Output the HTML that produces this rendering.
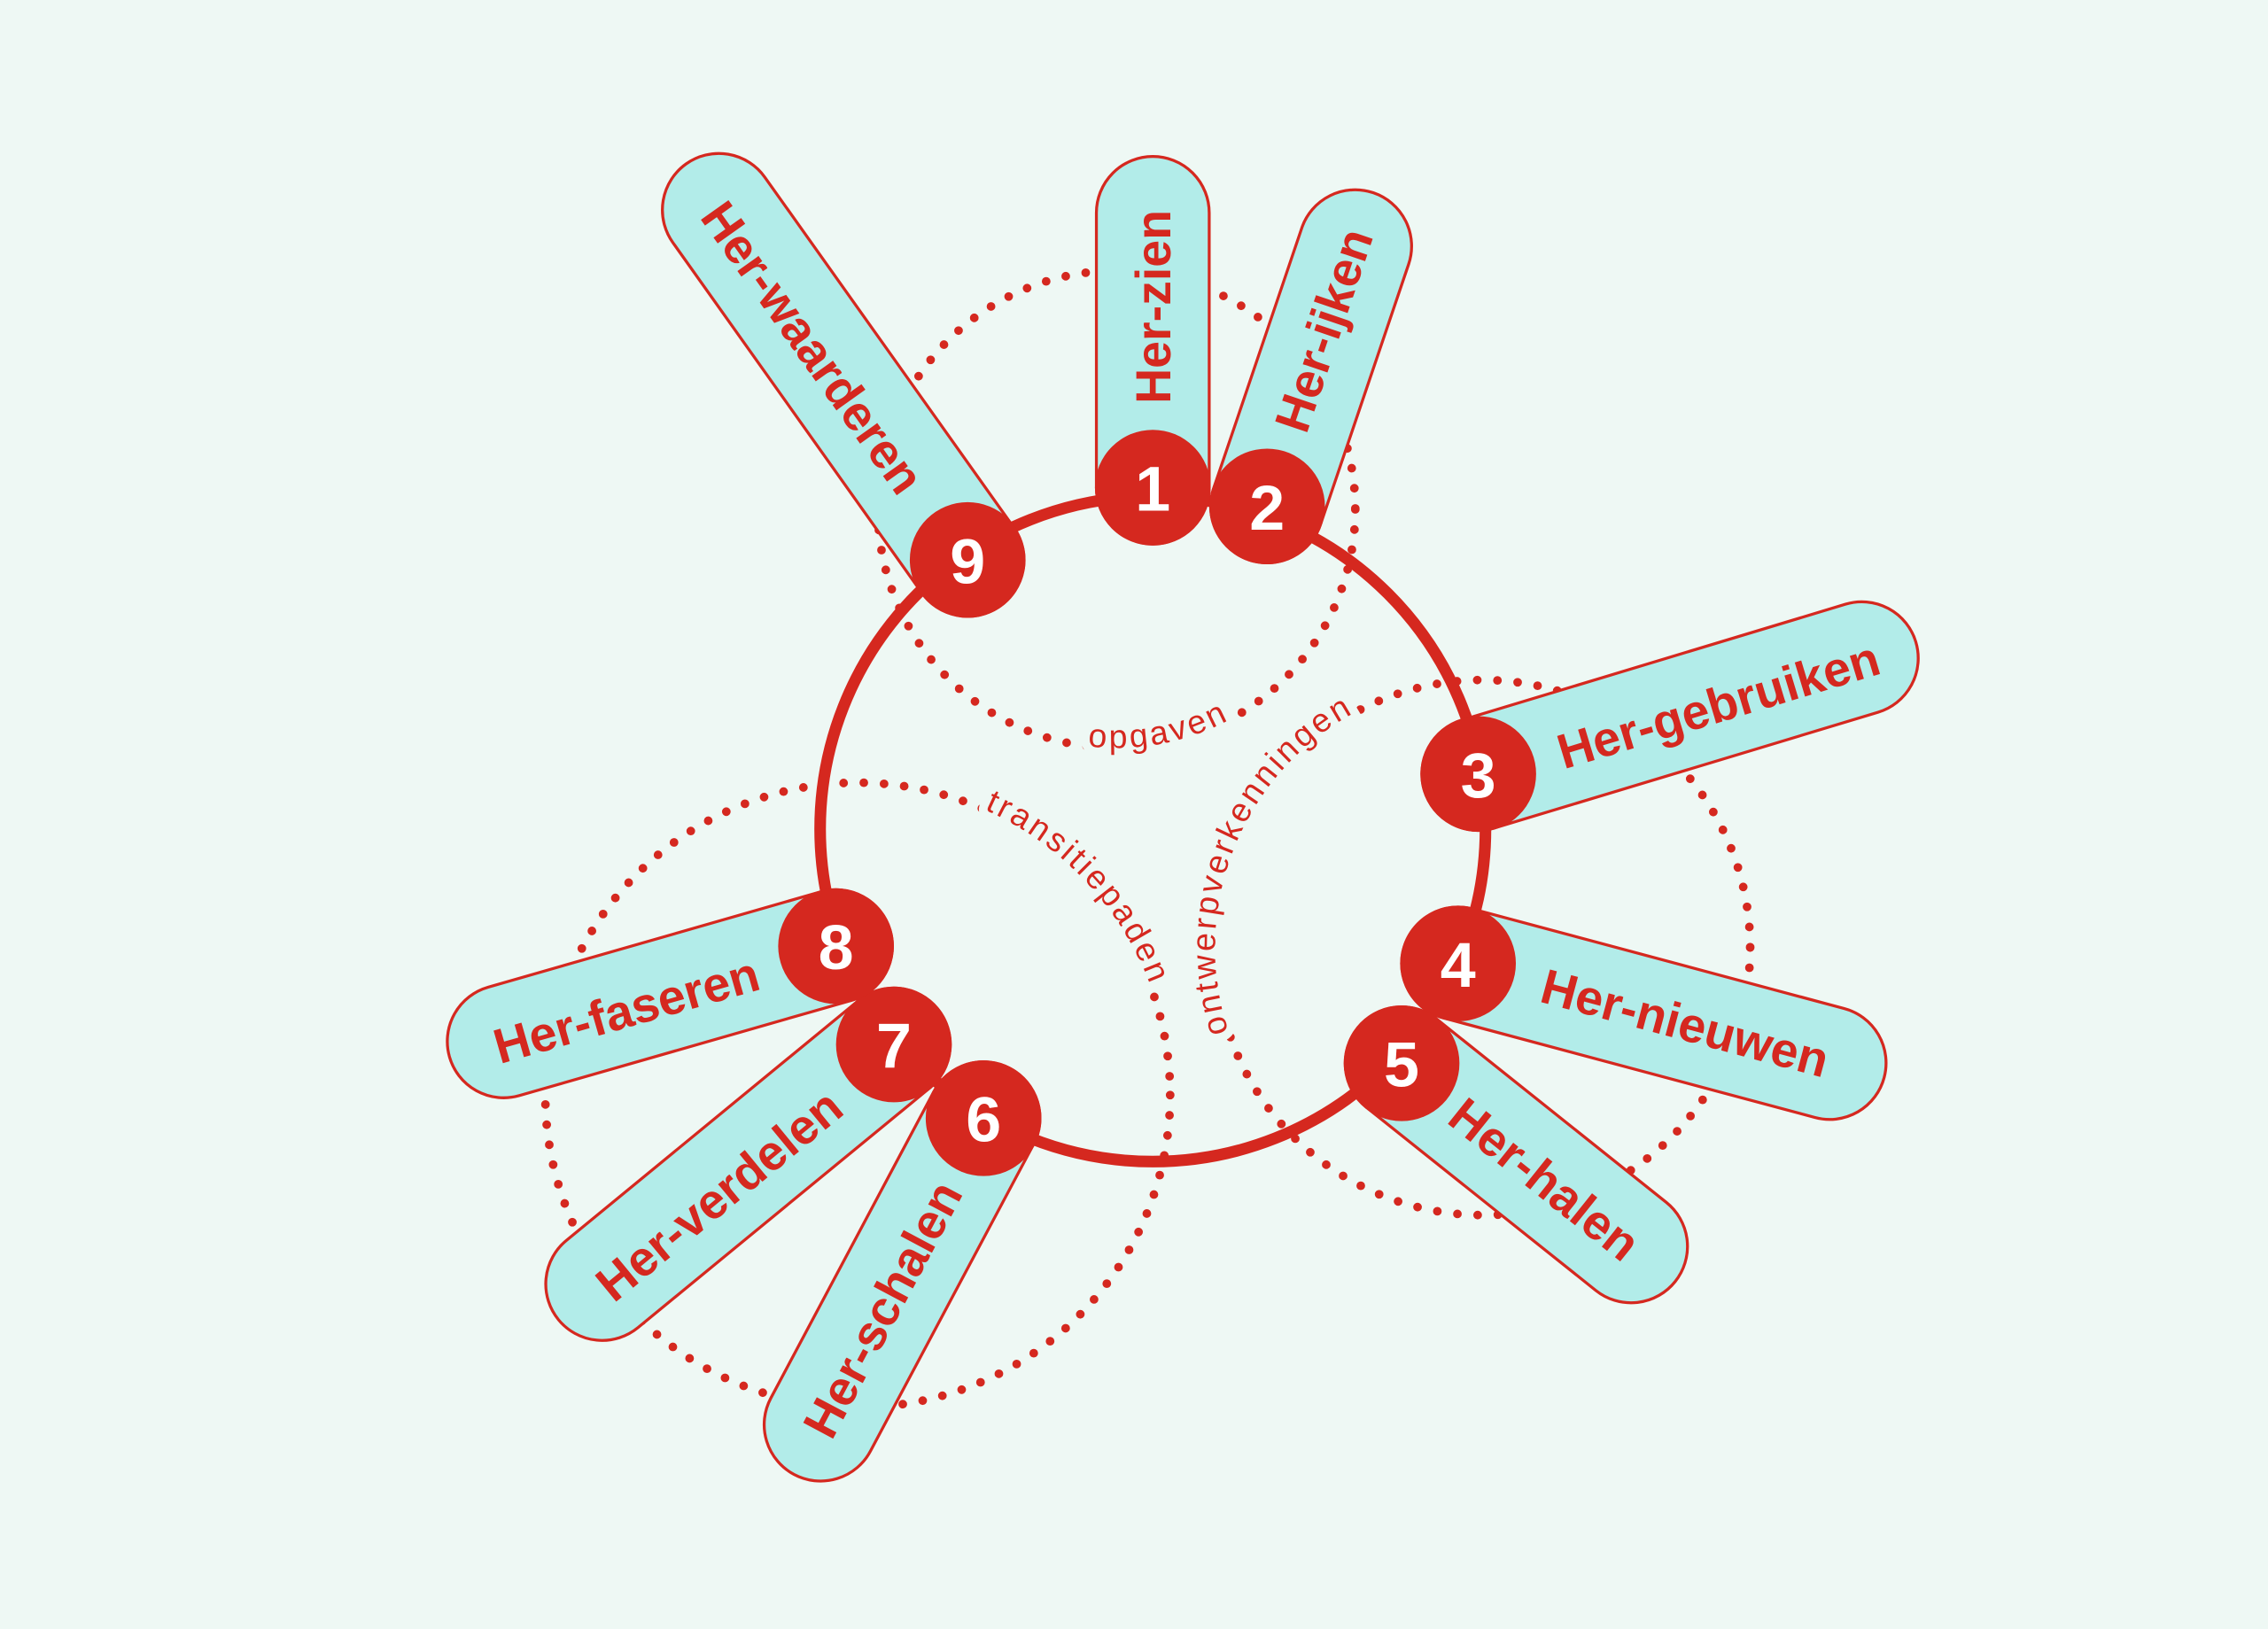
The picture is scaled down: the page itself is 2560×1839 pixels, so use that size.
<!DOCTYPE html>
<html><head><meta charset="utf-8"><style>
html,body{margin:0;padding:0;background:#eef8f4;}
svg{display:block;}
text{font-family:"Liberation Sans",sans-serif;fill:#d5281f;}
.pl{font-size:34px;font-weight:bold;}
.nm{font-size:44px;font-weight:bold;fill:#fff;}
.lb{font-size:23px;letter-spacing:2px;}
.halo{fill:#eef8f4;stroke:#eef8f4;stroke-width:12px;}
</style></head><body>
<svg width="2560" height="1839" viewBox="0 0 1568 1126" xmlns="http://www.w3.org/2000/svg">
<rect width="1568" height="1126" fill="#eef8f4"/>
<defs>
<path id="pO" d="M607,352 A165,165 0 0 0 937,352"/>
<path id="pT" d="M593,541 A216,216 0 0 1 593,973"/>
<path id="pW" d="M1025,840 A185,185 0 0 1 1025,470"/>
</defs>
<g fill="none" stroke="#d5281f" stroke-width="6" stroke-linecap="round" stroke-dasharray="0 14">
<circle cx="772" cy="352" r="165"/>
<circle cx="593" cy="757" r="216"/>
<circle cx="1025" cy="655" r="185"/>
</g>
<text class="lb halo"><textPath href="#pO" startOffset="56%" text-anchor="middle">&#160;opgaven&#160;</textPath></text>
<text class="lb halo"><textPath href="#pT" startOffset="26%" text-anchor="middle">&#160;transitiepaden&#160;</textPath></text>
<text class="lb halo"><textPath href="#pW" startOffset="62%" text-anchor="middle">&#160;ontwerpverkenningen&#160;</textPath></text>
<text class="lb"><textPath href="#pO" startOffset="56%" text-anchor="middle">&#160;opgaven&#160;</textPath></text>
<text class="lb"><textPath href="#pT" startOffset="26%" text-anchor="middle">&#160;transitiepaden&#160;</textPath></text>
<text class="lb"><textPath href="#pW" startOffset="62%" text-anchor="middle">&#160;ontwerpverkenningen&#160;</textPath></text>
<circle cx="797" cy="573" r="230" fill="none" stroke="#d5281f" stroke-width="8"/>
<g fill="#b2ece9" stroke="#d5281f" stroke-width="2">
<rect transform="translate(797,337) rotate(-90)" x="-39" y="-39" width="268" height="78" rx="39"/>
<rect transform="translate(876,350) rotate(-71.3)" x="-39" y="-39" width="268" height="78" rx="39"/>
<rect transform="translate(669,387) rotate(-125.4)" x="-39" y="-39" width="375" height="78" rx="39"/>
<rect transform="translate(1022,535) rotate(-16.8)" x="-39" y="-39" width="355" height="78" rx="39"/>
<rect transform="translate(1008,666) rotate(15)" x="-39" y="-39" width="344" height="78" rx="39"/>
<rect transform="translate(969,735) rotate(38.6)" x="-39" y="-39" width="281" height="78" rx="39"/>
<rect transform="translate(680,773) rotate(118)" x="-39" y="-39" width="318" height="78" rx="39"/>
<rect transform="translate(618,722) rotate(140.6)" x="-39" y="-39" width="339" height="78" rx="39"/>
<rect transform="translate(578,654) rotate(164)" x="-39" y="-39" width="317" height="78" rx="39"/>
</g>
<g text-anchor="middle">
<text class="pl" transform="translate(797,212) rotate(-90)" dy="12">Her-zien</text>
<text class="pl" transform="translate(915,228) rotate(-71.3)" dy="12">Her-ijken</text>
<text class="pl" transform="translate(562,240) rotate(54.6)" dy="12">Her-waarderen</text>
<text class="pl" transform="translate(1188,487) rotate(-16.8)" dy="12">Her-gebruiken</text>
<text class="pl" transform="translate(1165,707) rotate(15)" dy="12">Her-nieuwen</text>
<text class="pl" transform="translate(1068,815) rotate(38.6)" dy="12">Her-halen</text>
<text class="pl" transform="translate(610,905) rotate(-62)" dy="12">Her-schalen</text>
<text class="pl" transform="translate(497,826) rotate(-39.4)" dy="12">Her-verdelen</text>
<text class="pl" transform="translate(433,698) rotate(-16)" dy="12">Her-faseren</text>
</g>
<g fill="#d5281f">
<circle cx="797" cy="337" r="40"/><circle cx="876" cy="350" r="40"/><circle cx="669" cy="387" r="40"/>
<circle cx="1022" cy="535" r="40"/><circle cx="1008" cy="666" r="40"/><circle cx="969" cy="735" r="40"/>
<circle cx="680" cy="773" r="40"/><circle cx="618" cy="722" r="40"/><circle cx="578" cy="654" r="40"/>
</g>
<g text-anchor="middle">
<text class="nm" x="797" y="353">1</text><text class="nm" x="876" y="366">2</text><text class="nm" x="669" y="403">9</text>
<text class="nm" x="1022" y="551">3</text><text class="nm" x="1008" y="682">4</text><text class="nm" x="969" y="751">5</text>
<text class="nm" x="680" y="789">6</text><text class="nm" x="618" y="738">7</text><text class="nm" x="578" y="670">8</text>
</g>
</svg>
</body></html>
